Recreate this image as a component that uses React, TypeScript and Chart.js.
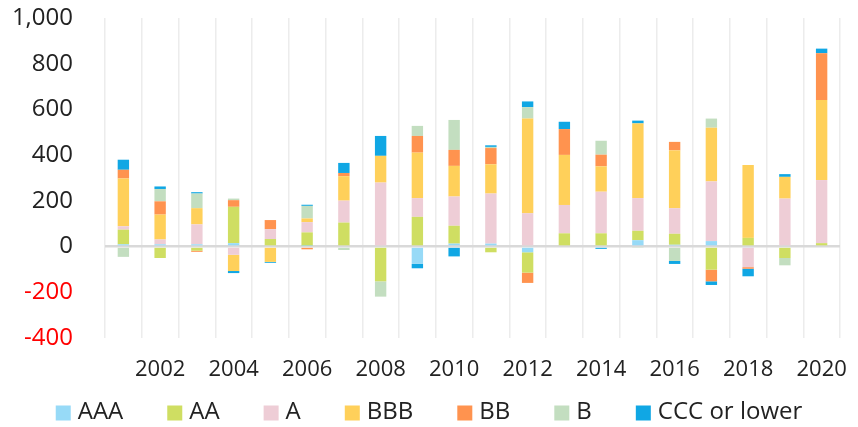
import React, { useEffect, useRef } from "react";
import { Chart, registerables } from "chart.js";

Chart.register(...registerables);

const years = ["2001","2002","2003","2004","2005","2006","2007","2008","2009","2010","2011","2012","2013","2014","2015","2016","2017","2018","2019","2020"];

const seriesNames = ["AAA", "AA", "A", "BBB", "BB", "B", "CCC or lower"];

const aaa = [10, 10, 10, 15, 0, 3, 0, 0, -76, 13, 13, -25, 0, 0, 28, 8, 24, -5, 0, 0];
const aa = [64, -50, -18, 159, 33, 59, 105, -152, 130, 78, -25, -89, 58, 58, 41, 48, -101, 38, -50, 15];
const a = [15, 21, 87, -36, 43, 45, 96, 280, 82, 128, 219, 146, 124, 182, 143, 112, 261, -85, 210, 276];
const bbb = [209, 109, 71, -71, -67, 16, 107, 117, 199, 134, 128, 414, 219, 111, 327, 253, 235, 319, 95, 350];
const bb = [38, 58, -5, 29, 40, -12, 14, 0, 73, 70, 71, -45, 113, 51, 0, 37, -51, -7, 0, 205];
const b = [-45, 54, 64, 7, 0, 55, -15, -67, 44, 131, 5, 50, 0, 61, -4, -63, 40, 0, -32, 0];
const ccc = [44, 11, 6, -9, -4, 5, 44, 87, -19, -43, 7, 25, 32, -10, 12, -13, -16, -33, 12, 20];

const colors = ["#97DAF7", "#CFDE62", "#EECDD6", "#FFD05A", "#FF934F", "#C3DEC0", "#10A7E4"];

const yMin = -400;
const yMax = 1000;
const yStep = 200;

const FONT = "'Open Sans', sans-serif";

const bottomLegend = {
  id: "bottomLegend",
  afterDraw(chart: any) {
    const ctx = chart.ctx;
    const items = chart.data.datasets.map((d: any) => ({ text: d.label, color: d.backgroundColor }));
    const box = 15;
    const gap = 7;
    const spacing = 44;
    ctx.save();
    ctx.font = `24px ${FONT}`;
    const widths = items.map((it: any) => box + gap + ctx.measureText(it.text).width);
    const total = widths.reduce((s: number, w: number) => s + w, 0) + spacing * (items.length - 1);
    let x = (chart.width - total) / 2;
    const cy = 412;
    ctx.textBaseline = "middle";
    ctx.textAlign = "left";
    items.forEach((it: any, i: number) => {
      ctx.fillStyle = it.color;
      ctx.fillRect(x, cy - box / 2 + 1, box, box);
      ctx.fillStyle = "#222";
      ctx.fillText(it.text, x + box + gap, cy);
      x += widths[i] + spacing;
    });
    ctx.restore();
  },
};

export default function App() {
  const canvasRef = useRef<HTMLCanvasElement | null>(null);

  useEffect(() => {
    if (!canvasRef.current) return;
    Chart.defaults.font.family = FONT;
    const values = [aaa, aa, a, bbb, bb, b, ccc];
    const chart = new Chart(canvasRef.current, {
      type: "bar",
      data: {
        labels: years,
        datasets: values.map((v, i) => ({
          label: seriesNames[i],
          data: v,
          backgroundColor: colors[i],
          borderWidth: 0,
          barPercentage: 0.31,
          categoryPercentage: 1,
        })),
      },
      plugins: [bottomLegend],
      options: {
        animation: false,
        responsive: true,
        maintainAspectRatio: false,
        layout: { padding: { top: 0, right: 18, bottom: 44, left: 0 } },
        plugins: {
          tooltip: { enabled: false },
          legend: { display: false },
        },
        scales: {
          x: {
            stacked: true,
            grid: { offset: true, drawTicks: false, color: "#ececec", lineWidth: 1.5 },
            border: { display: false },
            ticks: {
              autoSkip: false,
              maxRotation: 0,
              padding: 19,
              color: "#222",
              font: { size: 22 },
              callback: (_v: any, i: number) => (Number(years[i]) % 2 === 0 ? years[i] : ""),
            },
            afterFit: (s: any) => {
              s.height = 45;
              s.paddingLeft = 0;
              s.paddingRight = 0;
            },
          },
          y: {
            stacked: true,
            min: yMin,
            max: yMax,
            z: 1,
            grid: {
              drawTicks: false,
              color: (ctx: any) => (ctx.tick && ctx.tick.value === 0 ? "#d9d9d9" : "rgba(0,0,0,0)"),
              lineWidth: 2.5,
            },
            border: { display: false },
            ticks: {
              stepSize: yStep,
              padding: 32,
              font: { size: 24 },
              color: (ctx: any) => (ctx.tick && ctx.tick.value < 0 ? "#ff0000" : "#222"),
              callback: (v: any) => Number(v).toLocaleString("en-US"),
            },
            afterFit: (s: any) => {
              s.width = 105;
              s.paddingTop = 18;
              s.paddingBottom = 0;
            },
          },
        },
      },
    });
    return () => chart.destroy();
  }, []);

  return (
    <div style={{ position: "fixed", left: 0, top: 0, width: 858, height: 427 }}>
      <canvas ref={canvasRef} />
    </div>
  );
}
